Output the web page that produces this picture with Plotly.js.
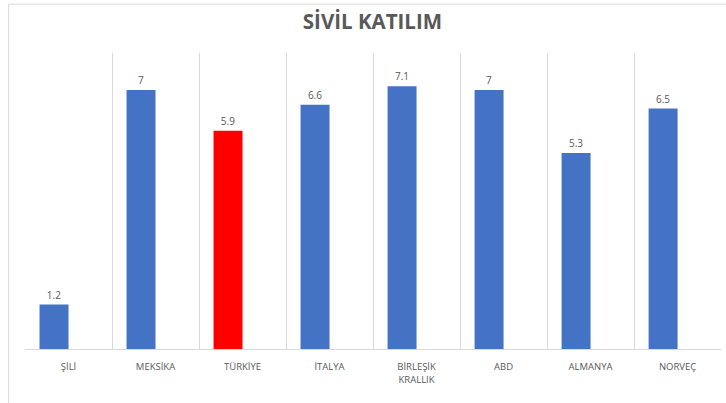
<!DOCTYPE html>
<html>
<head>
<meta charset="utf-8">
<script src="https://cdn.plot.ly/plotly-3.0.1.min.js"></script>
<style>html,body{margin:0;padding:0;background:#fff;}#chart{width:726px;height:403px;}</style>
</head>
<body>
<div id="chart"></div>
<script>
const categories = ["ŞİLİ", "MEKSİKA", "TÜRKİYE", "İTALYA", "BİRLEŞİK<br>KRALLIK", "ABD", "ALMANYA", "NORVEÇ"];
const values = [1.2, 7, 5.9, 6.6, 7.1, 7, 5.3, 6.5];
const barColors = ["#4472C4", "#4472C4", "#FF0000", "#4472C4", "#4472C4", "#4472C4", "#4472C4", "#4472C4"];
const chartTitle = "SİVİL KATILIM";

const trace = {
  type: "bar",
  x: categories,
  y: values,
  width: 0.333,
  offset: -0.333,
  marker: {color: barColors, line: {width: 0}},
  text: values.map(v => String(v)),
  textposition: "outside",
  cliponaxis: false,
  textfont: {family: "Open Sans, sans-serif", size: 10, color: "#595959"},
  hoverinfo: "none"
};

const layout = {
  width: 726, height: 403,
  margin: {l: 25, r: 5, t: 53, b: 54},
  paper_bgcolor: "#ffffff",
  plot_bgcolor: "#ffffff",
  showlegend: false,
  title: {
    text: "<b>" + chartTitle + "</b>",
    x: 0.513, xanchor: "center",
    y: 0.945, yanchor: "middle",
    font: {family: "Open Sans, sans-serif", size: 20.5, color: "#595959"}
  },
  xaxis: {
    type: "category",
    tickson: "boundaries",
    ticks: "",
    ticklabelstandoff: 9,
    showgrid: true,
    gridcolor: "#d9d9d9",
    gridwidth: 1,
    showline: true,
    linecolor: "#d9d9d9",
    linewidth: 1,
    range: [-0.5, 7.499],
    tickfont: {family: "Open Sans, sans-serif", size: 9.5, color: "#595959"},
    fixedrange: true
  },
  yaxis: {
    range: [0, 8],
    visible: false,
    showgrid: false,
    zeroline: false,
    fixedrange: true
  },
  shapes: [
    {type: "line", xref: "paper", yref: "paper", x0: -0.0235, x1: 1.01, y0: 1.165, y1: 1.165, line: {color: "#d9d9d9", width: 1}},
    {type: "line", xref: "paper", yref: "paper", x0: -0.0235, x1: -0.0235, y0: 1.165, y1: -0.2, line: {color: "#d9d9d9", width: 1}}
  ]
};

Plotly.newPlot("chart", [trace], layout, {displayModeBar: false, staticPlot: true});
</script>
</body>
</html>
